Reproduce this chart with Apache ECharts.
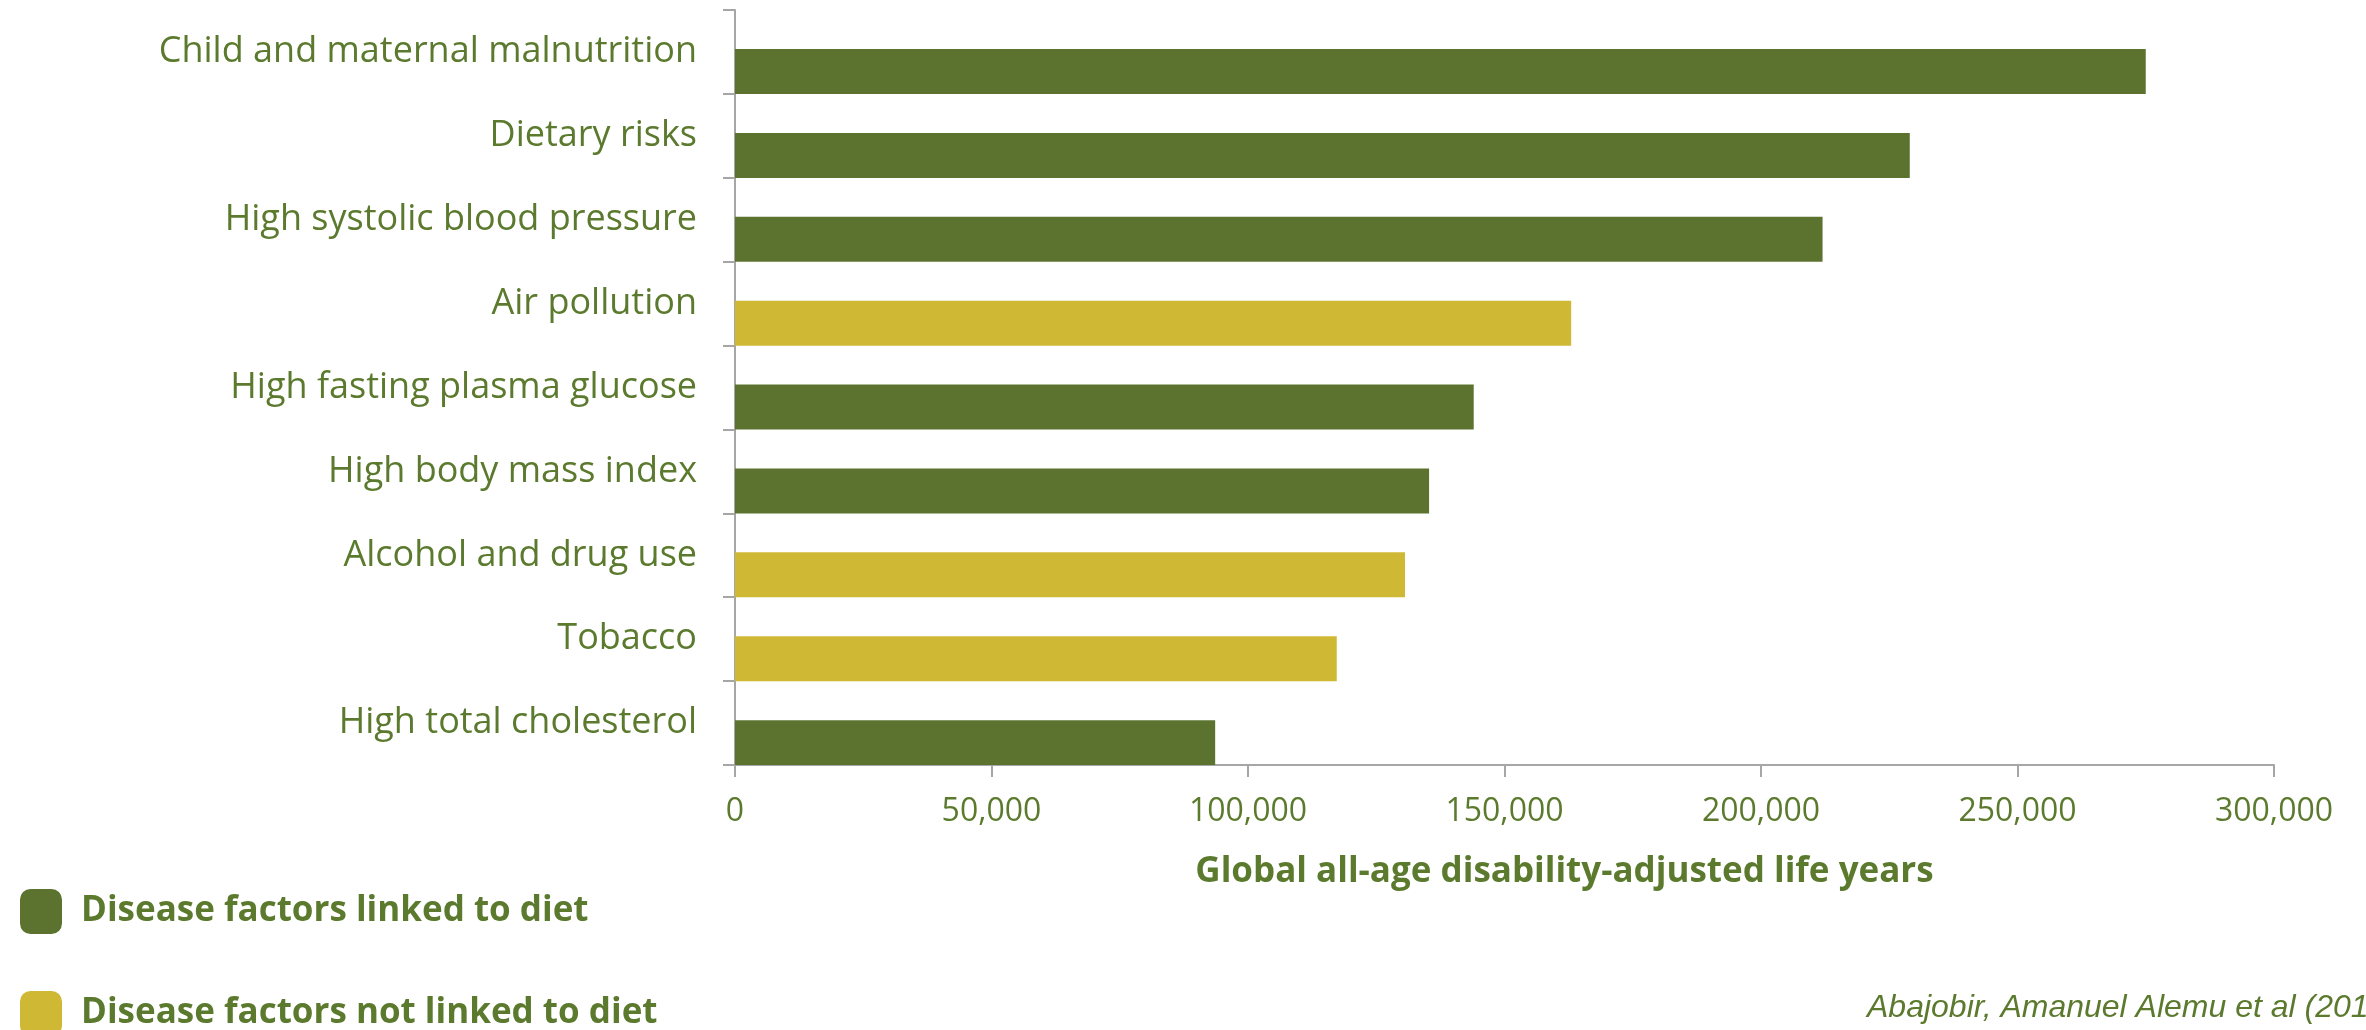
<!DOCTYPE html>
<html>
<head>
<meta charset="utf-8">
<script src="https://cdn.jsdelivr.net/npm/echarts@6/dist/echarts.min.js"></script>
<style>
  html, body { margin: 0; padding: 0; background: #fff; overflow: hidden; }
  #main { width: 2366px; height: 1030px; }
</style>
</head>
<body>
<div id="main"></div>
<script>
// risk factors, top to bottom
var categories = [
  'Child and maternal malnutrition',
  'Dietary risks',
  'High systolic blood pressure',
  'Air pollution',
  'High fasting plasma glucose',
  'High body mass index',
  'Alcohol and drug use',
  'Tobacco',
  'High total cholesterol'
];
var dalys = [275000, 229000, 212000, 163000, 144000, 135300, 130600, 117300, 93600];
// true = linked to diet
var linkedToDiet = [true, true, true, false, true, true, false, false, true];
var xTicks = [0, 50000, 100000, 150000, 200000, 250000, 300000];

var textColor = '#5b7a2e';
var darkGreen = '#5c7330';
var yellow = '#cfb834';
var axisGray = '#a6a6a6';

var linkedData = dalys.map(function (v, i) { return linkedToDiet[i] ? v : '-'; });
var notLinkedData = dalys.map(function (v, i) { return linkedToDiet[i] ? '-' : v; });
var emptyData = dalys.map(function () { return '-'; });

var legendText = {
  color: textColor,
  fontFamily: 'Open Sans',
  fontWeight: 'bold',
  fontSize: 35,
  padding: [0, 0, 0, 14]
};

var chart = echarts.init(document.getElementById('main'));
chart.setOption({
  animation: false,
  backgroundColor: '#fff',
  grid: {
    left: 735,
    right: 92,
    top: 10,
    bottom: 265
  },
  legend: [{
    left: 15,
    top: 884,
    itemWidth: 42,
    itemHeight: 45,
    icon: 'roundRect',
    data: ['Disease factors linked to diet'],
    textStyle: legendText
  }, {
    left: 15,
    top: 986,
    itemWidth: 42,
    itemHeight: 45,
    icon: 'roundRect',
    data: ['Disease factors not linked to diet'],
    textStyle: legendText
  }],
  xAxis: {
    type: 'value',
    min: 0,
    max: 300000,
    interval: 50000,
    name: 'Global all-age disability-adjusted life years',
    nameLocation: 'middle',
    nameGap: 90,
    nameTextStyle: {
      color: textColor,
      fontFamily: 'Open Sans',
      fontWeight: 'bold',
      fontSize: 35,
      verticalAlign: 'top',
      padding: [0, 0, 0, 120]
    },
    axisLine: { show: true, lineStyle: { color: axisGray, width: 2 } },
    axisTick: { show: true, length: 12, lineStyle: { color: axisGray, width: 2 } },
    splitLine: { show: false },
    axisLabel: {
      margin: 31,
      color: textColor,
      fontFamily: 'Open Sans',
      fontSize: 32,
      formatter: function (v) {
        return xTicks.indexOf(v) >= 0 ? v.toLocaleString('en-US') : '';
      }
    }
  },
  yAxis: {
    type: 'category',
    inverse: true,
    data: categories,
    axisLine: { show: true, lineStyle: { color: axisGray, width: 2 } },
    axisTick: { show: true, length: 12, lineStyle: { color: axisGray, width: 2 } },
    axisLabel: {
      margin: 38,
      color: textColor,
      fontFamily: 'Open Sans',
      fontSize: 36
    }
  },
  series: [{
    // empty slot that pushes the real bars to the lower half of each band
    name: 'spacer',
    type: 'bar',
    barWidth: 45,
    barGap: '-13%',
    data: emptyData
  }, {
    name: 'Disease factors linked to diet',
    type: 'bar',
    stack: 'all',
    barWidth: 45,
    barGap: '-13%',
    itemStyle: { color: darkGreen },
    data: linkedData
  }, {
    name: 'Disease factors not linked to diet',
    type: 'bar',
    stack: 'all',
    barWidth: 45,
    barGap: '-13%',
    itemStyle: { color: yellow },
    data: notLinkedData
  }],
  graphic: [{
    type: 'text',
    left: 1867,
    top: 992,
    style: {
      text: 'Abajobir, Amanuel Alemu et al (2017)',
      fill: textColor,
      font: 'italic 32px "Liberation Sans", Arial, sans-serif'
    }
  }]
});
</script>
</body>
</html>
